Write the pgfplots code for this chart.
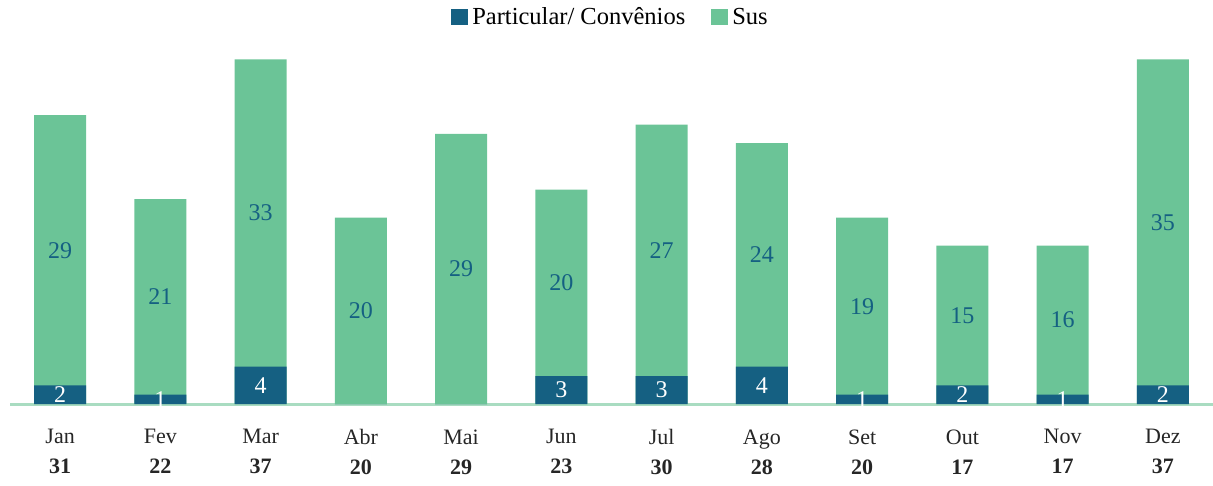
\documentclass[border=0pt]{standalone}
\usepackage{pgfplots}
\pgfplotsset{compat=1.18}
\usepackage{pgfplotstable}
\usepackage{fontspec}
\setmainfont{Liberation Serif}
\definecolor{partc}{HTML}{156082}
\definecolor{susc}{HTML}{6BC497}
\definecolor{basec}{HTML}{A9DCC1}
\definecolor{txtc}{HTML}{262626}
\pgfplotstableread{
x part sus
0 2 29
1 1 21
2 4 33
3 0 20
4 0 29
5 3 20
6 3 27
7 4 24
8 1 19
9 2 15
10 1 16
11 2 35
}\datatab
\begin{document}
\begin{tikzpicture}
\useasboundingbox (-10pt,-81pt) rectangle (1203pt,404pt);
\begin{axis}[
  at={(0pt,0pt)}, anchor=south west,
  scale only axis, width=1203pt, height=354pt,
  xmin=-0.5, xmax=11.5, ymin=0, ymax=38,
  clip=false,
  axis y line=none,
  axis x line*=bottom,
  x axis line style={-, draw=basec, line width=3pt},
  xtick={0,...,11},
  xticklabels={Jan\\\textbf{31},Fev\\\textbf{22},Mar\\\textbf{37},Abr\\\textbf{20},Mai\\\textbf{29},Jun\\\textbf{23},Jul\\\textbf{30},Ago\\\textbf{28},Set\\\textbf{20},Out\\\textbf{17},Nov\\\textbf{17},Dez\\\textbf{37}},
  xticklabel style={align=center, text=txtc, font=\fontsize{22}{30}\selectfont, yshift=-22pt},
  major tick length=0pt,
  xtick style={draw=none},
  legend columns=2,
  reverse legend,
  legend style={at={(0.5,1)}, anchor=center, yshift=33pt, draw=none, fill=none,
    font=\fontsize{24.5}{28}\selectfont, text=black,
    nodes={inner xsep=4pt},
    /tikz/every even column/.append style={column sep=22pt}},
  legend image code/.code={\fill[#1] (0pt,-8pt) rectangle (17pt,8pt);},
]
\addplot[ybar, bar width=52pt, bar shift=0pt, fill=susc, draw=none]
  table[x=x, y expr=\thisrow{part}+\thisrow{sus}] {\datatab};
\addlegendentry{Sus}
\addplot[ybar, bar width=52pt, bar shift=0pt, fill=partc, draw=none]
  table[x=x, y=part] {\datatab};
\addlegendentry{Particular/ Convênios}
\addplot[forget plot, draw=none, mark=none, nodes near coords, point meta=explicit symbolic,
  nodes near coords style={anchor=center, text=partc, font=\fontsize{24}{28}\selectfont}]
  table[x=x, y expr=\thisrow{part}+\thisrow{sus}/2, meta=sus] {\datatab};
\addplot[forget plot, draw=none, mark=none, nodes near coords, point meta=explicit symbolic,
  restrict expr to domain={\thisrow{part}}{0.5:100},
  nodes near coords style={anchor=center, text=white, font=\fontsize{24}{28}\selectfont}]
  table[x=x, y expr=\thisrow{part}/2, meta=part] {\datatab};
\end{axis}
\end{tikzpicture}
\end{document}
